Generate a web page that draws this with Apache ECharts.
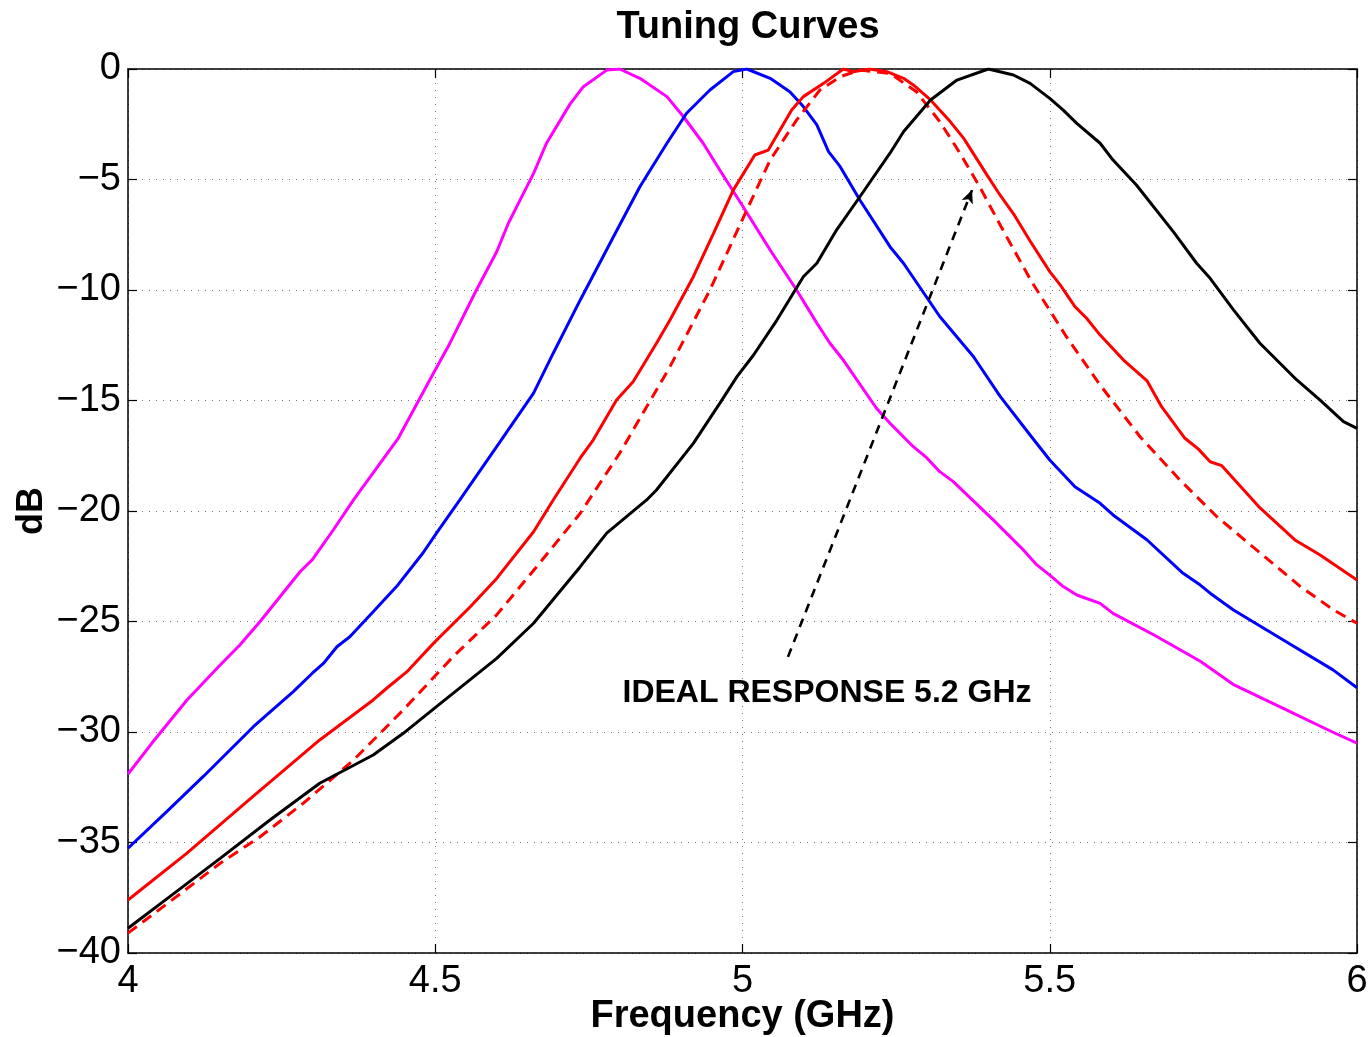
<!DOCTYPE html>
<html>
<head>
<meta charset="utf-8">
<title>Tuning Curves</title>
<script src="https://cdn.jsdelivr.net/npm/echarts@6/dist/echarts.min.js"></script>
<style>
    html, body { margin: 0; padding: 0; background: #fff; }
    #chart { width: 1372px; height: 1037px; }
</style>
</head>
<body>
<div id="chart"></div>
<script>
// frequency (GHz) / response (dB)
var magentaFreq = [4.0, 4.039, 4.096, 4.15, 4.182, 4.215, 4.28, 4.30, 4.334, 4.367, 4.44, 4.497, 4.521, 4.567, 4.60, 4.619, 4.638, 4.66, 4.681, 4.719, 4.741, 4.779, 4.80, 4.833, 4.877, 4.904, 4.936, 4.963, 5.001, 5.045, 5.088, 5.121, 5.142, 5.164, 5.218, 5.24, 5.278, 5.30, 5.321, 5.343, 5.408, 5.457, 5.479, 5.50, 5.522, 5.544, 5.582, 5.603, 5.669, 5.745, 5.80, 5.88, 5.96, 6.0];
var magentaDb = [-31.9, -30.5, -28.55, -26.97, -26.06, -25.0, -22.75, -22.2, -20.86, -19.5, -16.7, -13.77, -12.56, -10.0, -8.27, -6.98, -5.93, -4.72, -3.36, -1.6, -0.8, -0.05, 0, -0.42, -1.25, -2.16, -3.36, -4.57, -6.23, -8.19, -10.0, -11.5, -12.4, -13.17, -15.35, -16.03, -17.09, -17.6, -18.22, -18.67, -20.4, -21.76, -22.44, -22.9, -23.42, -23.8, -24.18, -24.63, -25.6, -26.8, -27.87, -28.93, -30.0, -30.5];

var blueFreq = [4.0, 4.063, 4.123, 4.204, 4.269, 4.30, 4.318, 4.34, 4.361, 4.399, 4.437, 4.48, 4.502, 4.54, 4.60, 4.66, 4.692, 4.736, 4.79, 4.833, 4.877, 4.909, 4.947, 4.985, 5.007, 5.045, 5.077, 5.099, 5.121, 5.14, 5.159, 5.191, 5.24, 5.262, 5.321, 5.376, 5.419, 5.468, 5.50, 5.541, 5.582, 5.603, 5.658, 5.717, 5.745, 5.761, 5.799, 5.88, 5.961, 6.0];
var blueDb = [-35.26, -33.6, -32.0, -29.76, -28.17, -27.34, -26.9, -26.14, -25.69, -24.56, -23.42, -21.9, -21.0, -19.5, -17.09, -14.67, -12.86, -10.45, -7.59, -5.33, -3.36, -2.0, -0.95, -0.12, 0, -0.42, -1.03, -1.7, -2.53, -3.74, -4.42, -5.93, -8.04, -8.79, -11.2, -13.02, -14.8, -16.56, -17.69, -18.9, -19.65, -20.18, -21.3, -22.82, -23.35, -23.72, -24.48, -25.84, -27.19, -28.0];

var redFreq = [4.0, 4.095, 4.204, 4.312, 4.399, 4.421, 4.454, 4.497, 4.557, 4.60, 4.66, 4.692, 4.736, 4.757, 4.795, 4.822, 4.86, 4.882, 4.92, 4.953, 4.985, 5.02, 5.042, 5.08, 5.099, 5.132, 5.164, 5.18, 5.207, 5.235, 5.262, 5.278, 5.306, 5.338, 5.36, 5.398, 5.419, 5.441, 5.468, 5.50, 5.517, 5.541, 5.56, 5.582, 5.62, 5.658, 5.682, 5.72, 5.742, 5.761, 5.78, 5.84, 5.899, 5.94, 6.0];
var redDb = [-37.6, -35.5, -32.9, -30.36, -28.55, -28.02, -27.27, -25.99, -24.33, -23.05, -20.94, -19.5, -17.6, -16.79, -14.98, -14.15, -12.41, -11.36, -9.4, -7.43, -5.48, -3.89, -3.67, -1.86, -1.25, -0.65, 0, -0.12, 0, -0.12, -0.42, -0.72, -1.4, -2.38, -3.14, -4.8, -5.7, -6.55, -7.78, -9.17, -9.77, -10.75, -11.28, -12.04, -13.17, -14.1, -15.28, -16.71, -17.2, -17.77, -17.95, -19.8, -21.31, -21.99, -23.12];

var idealFreq = [4.0, 4.068, 4.15, 4.215, 4.285, 4.367, 4.448, 4.529, 4.60, 4.665, 4.736, 4.80, 4.882, 4.947, 5.007, 5.045, 5.088, 5.126, 5.159, 5.191, 5.24, 5.283, 5.321, 5.354, 5.386, 5.424, 5.47, 5.527, 5.582, 5.647, 5.712, 5.772, 5.843, 5.908, 5.962, 6.0];
var idealDb = [-39.1, -37.68, -35.94, -34.74, -33.23, -31.27, -29.0, -26.59, -24.7, -22.52, -20.1, -17.39, -13.47, -10.0, -6.38, -4.12, -2.31, -0.95, -0.35, -0.05, -0.2, -1.03, -2.38, -3.81, -5.33, -7.3, -9.6, -12.11, -14.3, -16.64, -18.6, -20.26, -21.91, -23.42, -24.48, -25.08];

var blackFreq = [4.0, 4.068, 4.15, 4.231, 4.312, 4.399, 4.448, 4.502, 4.60, 4.66, 4.698, 4.736, 4.779, 4.844, 4.86, 4.92, 4.963, 4.991, 5.018, 5.056, 5.099, 5.121, 5.153, 5.191, 5.24, 5.262, 5.306, 5.349, 5.40, 5.441, 5.468, 5.50, 5.522, 5.544, 5.582, 5.603, 5.641, 5.701, 5.739, 5.761, 5.799, 5.842, 5.902, 5.94, 5.978, 6.0];
var blackDb = [-38.88, -37.45, -35.72, -33.98, -32.32, -31.04, -30.06, -28.85, -26.67, -25.08, -23.8, -22.52, -21.0, -19.5, -19.05, -16.94, -15.13, -13.92, -12.94, -11.36, -9.4, -8.79, -7.29, -5.78, -3.81, -2.84, -1.40, -0.5, 0, -0.27, -0.65, -1.33, -1.86, -2.46, -3.36, -4.12, -5.25, -7.36, -8.79, -9.47, -10.9, -12.41, -14.07, -14.98, -15.96, -16.26];

// annotation: arrow from the label up to the ideal curve
var arrowStart = [5.074, -26.6];
var arrowEnd = [5.3735, -5.48];
var noteText = 'IDEAL RESPONSE 5.2 GHz';
var notePos = [5.1375, -28.24];

(function() {
    'use strict';

    var FONT = '"Liberation Sans", Arial, Helvetica, sans-serif';

    function pairs(xs, ys) {
        var out = [];
        for (var i = 0; i < xs.length; i++) {
            out.push([xs[i], ys[i]]);
        }
        return out;
    }

    function minusLabel(v) {
        return v < 0 ? '\u2212' + Math.abs(v) : String(v);
    }

    function curve(name, xs, ys, color, dash) {
        return {
            name: name,
            type: 'line',
            data: pairs(xs, ys),
            showSymbol: false,
            symbol: 'none',
            smooth: false,
            lineStyle: { color: color, width: 3, type: dash || 'solid' },
            z: 3
        };
    }

    var chart = echarts.init(document.getElementById('chart'), null, { renderer: 'canvas' });

    var dotted = { show: true, lineStyle: { color: '#777', width: 1, type: [1, 6] } };
    var tickIn = { show: true, inside: true, length: 9, lineStyle: { color: '#000', width: 1.2 } };
    var frame = { show: true, onZero: false, lineStyle: { color: '#000', width: 1.5 } };

    var option = {
        animation: false,
        backgroundColor: '#fff',
        title: {
            text: 'Tuning Curves',
            left: 743,
            textAlign: 'center',
            top: 4,
            textStyle: { fontFamily: FONT, fontSize: 38, fontWeight: 'bold', color: '#000' }
        },
        grid: { left: 128, right: 15, top: 69, bottom: 84, containLabel: false, outerBoundsMode: 'none' },
        xAxis: [{
            type: 'value',
            position: 'bottom',
            min: 4, max: 6, interval: 0.5,
            axisLine: frame,
            axisTick: tickIn,
            splitLine: dotted,
            axisLabel: { color: '#000', fontFamily: FONT, fontSize: 38, margin: 10, formatter: function(v) { return String(v); } },
            name: 'Frequency (GHz)',
            nameLocation: 'middle',
            nameGap: 45,
            nameMoveOverlap: false,
            nameTextStyle: { fontFamily: FONT, fontSize: 38, fontWeight: 'bold', color: '#000' }
        }, {
            type: 'value',
            position: 'top',
            min: 4, max: 6, interval: 0.5,
            axisLine: frame,
            axisTick: tickIn,
            axisLabel: { show: false },
            splitLine: { show: false }
        }],
        yAxis: [{
            type: 'value',
            position: 'left',
            min: -40, max: 0, interval: 5,
            axisLine: frame,
            axisTick: tickIn,
            splitLine: dotted,
            axisLabel: { color: '#000', fontFamily: FONT, fontSize: 38, margin: 7, formatter: minusLabel },
            name: 'dB',
            nameLocation: 'middle',
            nameGap: 78,
            nameMoveOverlap: false,
            nameRotate: 90,
            nameTextStyle: { fontFamily: FONT, fontSize: 36, fontWeight: 'bold', color: '#000' }
        }, {
            type: 'value',
            position: 'right',
            min: -40, max: 0, interval: 5,
            axisLine: frame,
            axisTick: tickIn,
            axisLabel: { show: false },
            splitLine: { show: false }
        }],
        series: [
            curve('4.8 GHz', magentaFreq, magentaDb, '#ff00ff'),
            curve('5.0 GHz', blueFreq, blueDb, '#0000ff'),
            curve('Ideal 5.2 GHz', idealFreq, idealDb, '#ff0000', [11, 7]),
            curve('5.2 GHz', redFreq, redDb, '#ff0000'),
            curve('5.4 GHz', blackFreq, blackDb, '#000000'),
            {
                name: 'note',
                type: 'line',
                data: [],
                markLine: {
                    silent: true,
                    symbol: ['none', 'arrow'],
                    symbolSize: [9, 13],
                    label: { show: false },
                    lineStyle: { color: '#000', width: 2.6, type: [9, 7] },
                    data: [[{ coord: arrowStart }, { coord: arrowEnd }]]
                },
                markPoint: {
                    silent: true,
                    symbol: 'circle',
                    symbolSize: 0,
                    label: {
                        show: true,
                        position: 'inside',
                        formatter: noteText,
                        color: '#000',
                        fontFamily: FONT,
                        fontSize: 32,
                        fontWeight: 'bold'
                    },
                    data: [{ coord: notePos }]
                }
            }
        ]
    };

    chart.setOption(option);
})();
</script>
</body>
</html>
